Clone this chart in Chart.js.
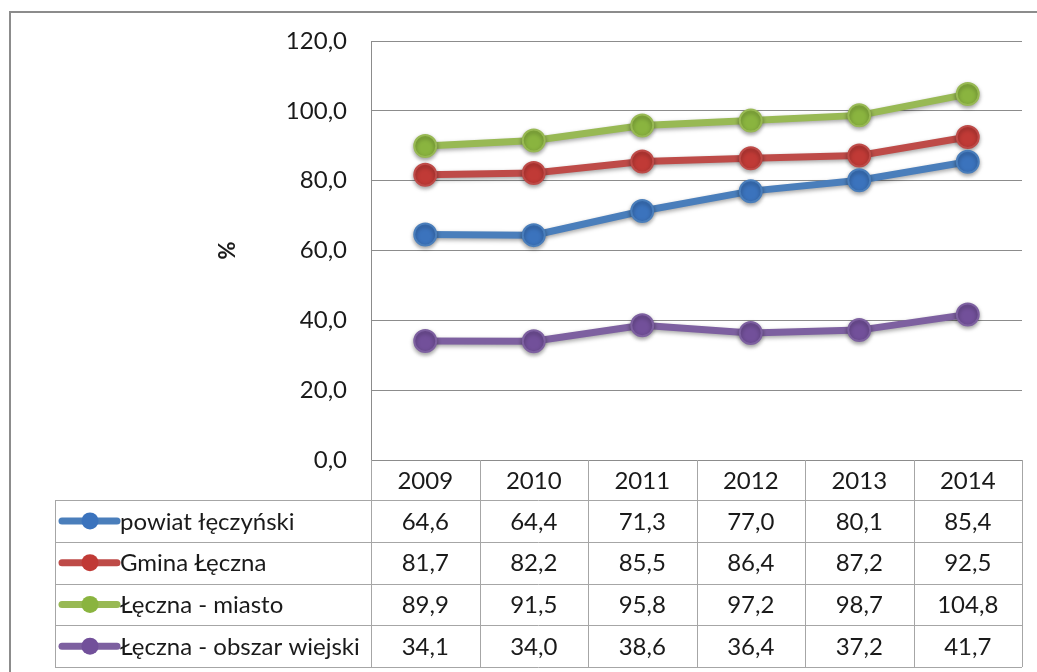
<!DOCTYPE html>
<html>
<head>
<meta charset="utf-8">
<script src="https://cdn.jsdelivr.net/npm/chart.js@4.4.0/dist/chart.umd.min.js"></script>
<style>
  html, body { margin: 0; padding: 0; background: #fff; overflow: hidden; }
  #wrap { position: relative; width: 1037px; height: 672px; }
  #frame { position: absolute; left: 9px; top: 11px; width: 1100px; height: 700px; border: 2px solid #8c8c8c; box-sizing: border-box; }
  canvas { position: absolute; left: 0; top: 0; }
</style>
</head>
<body>
<div id="wrap">
  <div id="frame"></div>
  <canvas id="chart" width="1037" height="672"></canvas>
</div>
<script>
const years = ['2009', '2010', '2011', '2012', '2013', '2014'];
const seriesNames = ['powiat łęczyński', 'Gmina Łęczna', 'Łęczna - miasto', 'Łęczna - obszar wiejski'];
const powiat = [64.6, 64.4, 71.3, 77.0, 80.1, 85.4];
const gmina = [81.7, 82.2, 85.5, 86.4, 87.2, 92.5];
const miasto = [89.9, 91.5, 95.8, 97.2, 98.7, 104.8];
const wies = [34.1, 34.0, 38.6, 36.4, 37.2, 41.7];
const lineColors = ['#4a7ebb', '#be4b48', '#98b954', '#7d60a0'];
const pointColors = ['#3b73bd', '#c03a36', '#8ab43f', '#72509a'];

const FONT = 'Lato, "Open Sans", sans-serif';
const fmt = v => v.toFixed(1).replace('.', ',');

const tablePlugin = {
  id: 'dataTable',
  beforeDatasetsDraw(chart) {
    const ctx = chart.ctx;
    ctx.save();
    ctx.shadowColor = 'rgba(0,0,0,0.35)';
    ctx.shadowBlur = 4;
    ctx.shadowOffsetY = 2;
  },
  afterDatasetsDraw(chart) {
    chart.ctx.restore();
  },
  afterDraw(chart) {
    const ctx = chart.ctx;
    const area = chart.chartArea;
    const x = chart.scales.x;
    const colW = (area.right - area.left) / years.length;
    const tableLeft = 55;
    const headTop = area.bottom;
    const headBottom = area.bottom + 40;
    const rowH = 41.75;
    const tableBottom = headBottom + rowH * seriesNames.length;

    ctx.save();
    ctx.strokeStyle = '#a6a6a6';
    ctx.lineWidth = 1;
    ctx.beginPath();
    // header box
    for (let i = 0; i <= years.length; i++) {
      const cx = Math.round(area.left + i * colW) + 0.5;
      ctx.moveTo(cx, headTop);
      ctx.lineTo(cx, tableBottom);
    }
    ctx.moveTo(tableLeft + 0.5, headBottom);
    ctx.lineTo(tableLeft + 0.5, tableBottom);
    for (let r = 0; r <= seriesNames.length; r++) {
      const y = Math.round(headBottom + r * rowH) + 0.5;
      ctx.moveTo(tableLeft, y);
      ctx.lineTo(area.right, y);
    }
    ctx.stroke();

    ctx.fillStyle = '#1a1a1a';
    ctx.font = '24px ' + FONT;
    ctx.textAlign = 'center';
    ctx.textBaseline = 'middle';
    years.forEach((yr, i) => {
      ctx.fillText(yr, x.getPixelForValue(i), (headTop + headBottom) / 2 + 1);
    });

    chart.data.datasets.forEach((ds, r) => {
      const cy = headBottom + rowH * r + rowH / 2 + 1;
      ds.data.forEach((v, i) => {
        ctx.textAlign = 'center';
        ctx.fillText(fmt(v), x.getPixelForValue(i), cy);
      });
      // legend key
      ctx.strokeStyle = lineColors[r];
      ctx.lineWidth = 7;
      ctx.lineCap = 'round';
      ctx.beginPath();
      ctx.moveTo(62, cy - 1);
      ctx.lineTo(117, cy - 1);
      ctx.stroke();
      ctx.fillStyle = pointColors[r];
      ctx.beginPath();
      ctx.arc(90, cy - 1, 8.5, 0, Math.PI * 2);
      ctx.fill();
      ctx.fillStyle = '#1a1a1a';
      ctx.textAlign = 'left';
      ctx.fillText(seriesNames[r], 120, cy);
    });

    // axis title
    ctx.save();
    ctx.translate(228, (area.top + area.bottom) / 2);
    ctx.rotate(-Math.PI / 2);
    ctx.textAlign = 'center';
    ctx.font = 'bold 22px ' + FONT;
    ctx.fillText('%', 0, 0);
    ctx.restore();
    ctx.restore();
  }
};

const values = [powiat, gmina, miasto, wies];
new Chart(document.getElementById('chart'), {
  type: 'line',
  data: {
    labels: years,
    datasets: values.map((d, i) => ({
      label: seriesNames[i],
      data: d,
      borderColor: lineColors[i],
      borderWidth: 7,
      pointRadius: 11,
      pointBackgroundColor: pointColors[i],
      pointBorderColor: lineColors[i],
      pointBorderWidth: 2,
      tension: 0
    }))
  },
  options: {
    responsive: false,
    animation: false,
    layout: { padding: { left: 0, right: 15, top: 41, bottom: 212 } },
    plugins: { legend: { display: false }, tooltip: { enabled: false } },
    scales: {
      x: {
        offset: true,
        ticks: { display: false },
        grid: { display: false },
        border: { display: false },
        afterFit(scale) { scale.height = 0; }
      },
      y: {
        min: 0,
        max: 120,
        ticks: {
          stepSize: 20,
          padding: 24,
          color: '#1a1a1a',
          font: { family: FONT, size: 24 },
          callback: v => fmt(v)
        },
        grid: { color: '#8c8c8c', lineWidth: 1, drawTicks: false },
        border: { color: '#8c8c8c', width: 1 },
        afterFit(scale) { scale.width = 371; }
      }
    }
  },
  plugins: [tablePlugin]
});
</script>
</body>
</html>
